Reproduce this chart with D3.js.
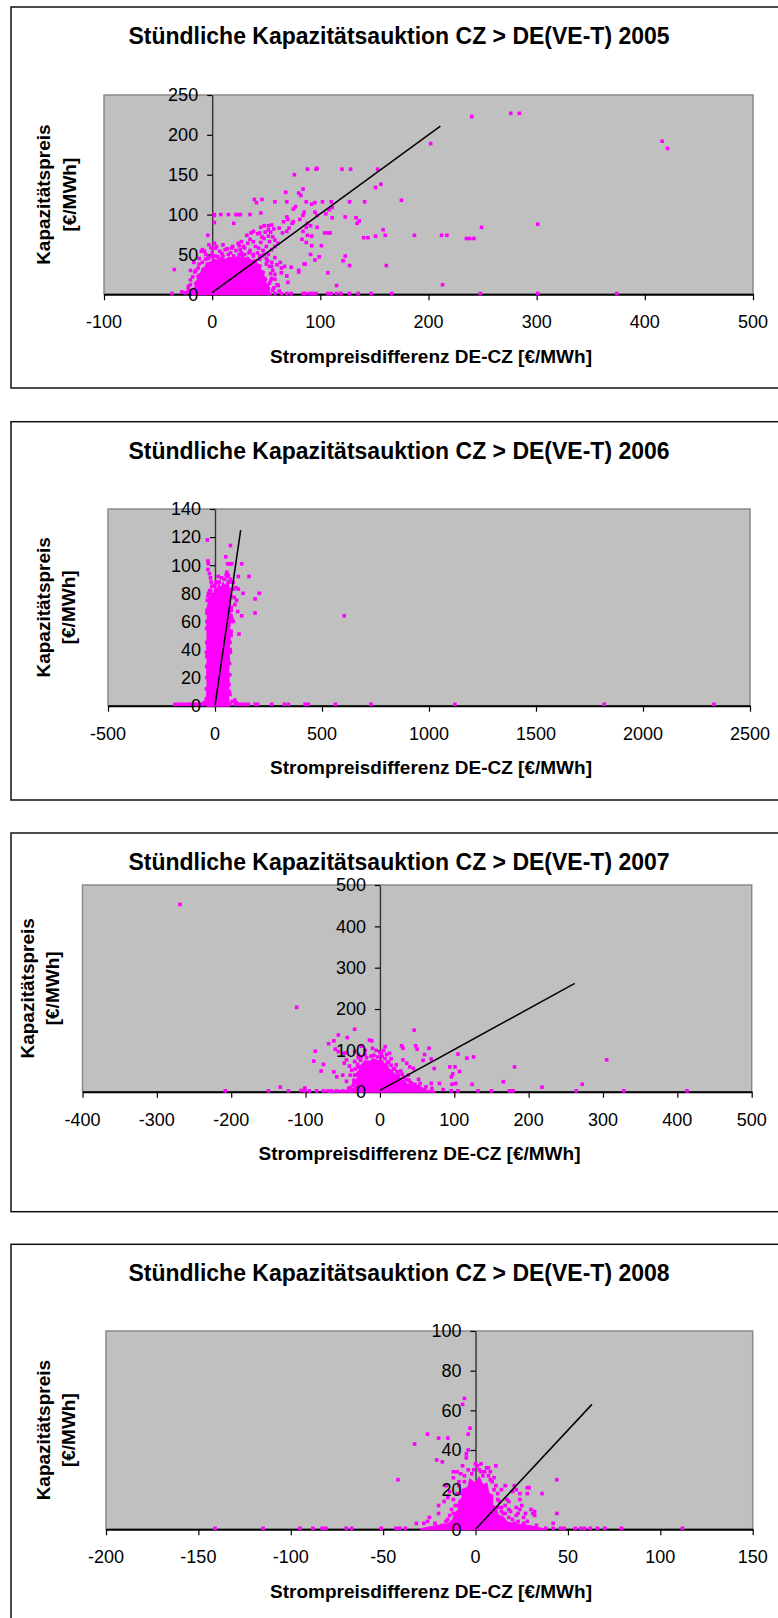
<!DOCTYPE html>
<html><head><meta charset="utf-8">
<script src="https://cdn.jsdelivr.net/npm/d3@7"></script>
<style>
html,body{margin:0;padding:0;background:#fff;}
svg{display:block;}
text{font-family:"Liberation Sans",Arial,sans-serif;fill:#000;}
</style></head><body>
<svg id="chart" width="778" height="1618"></svg>
<script>
// ---- texts ----
const titlePrefix = "Stündliche Kapazitätsauktion CZ > DE(VE-T) ";
const xAxisTitle = "Strompreisdifferenz DE-CZ [€/MWh]";
const yAxisTitle = ["Kapazitätspreis", "[€/MWh]"];
const years = [2005, 2006, 2007, 2008];

// ---- tick values ----
const xTicks2005 = [-100, 0, 100, 200, 300, 400, 500];
const yTicks2005 = [0, 50, 100, 150, 200, 250];
const xTicks2006 = [-500, 0, 500, 1000, 1500, 2000, 2500];
const yTicks2006 = [0, 20, 40, 60, 80, 100, 120, 140];
const xTicks2007 = [-400, -300, -200, -100, 0, 100, 200, 300, 400, 500];
const yTicks2007 = [0, 100, 200, 300, 400, 500];
const xTicks2008 = [-200, -150, -100, -50, 0, 50, 100, 150];
const yTicks2008 = [0, 20, 40, 60, 80, 100];

// ---- reference lines (price difference = capacity price) ----
const fit2005 = [[0, 2], [211, 211]];
const fit2006 = [[0, 0], [120, 125]];
const fit2007 = [[0, 3], [262, 262]];
const fit2008 = [[0, 0], [63, 63]];

// ---- densely packed hours (outline of the saturated cloud) ----
const core2005 = [[-18,0],[-18,6],[-15,9],[-16,14],[-13,18],[-14,23],[-10,27],[-9,32],[-6,34],[-5,39],[-1,40],[1,44],[5,42],[8,46],[12,43],[16,46],[20,44],[24,47],[28,44],[33,46],[36,42],[40,43],[41,38],[45,36],[44,31],[48,28],[47,23],[50,20],[49,14],[52,11],[50,6],[53,3],[54,0]];
const core2006 = [[-36,0],[-37,8],[-35,15],[-37,24],[-35,33],[-37,42],[-35,50],[-36,58],[-34,64],[-35,70],[-30,73],[-28,78],[-20,76],[-15,80],[-6,79],[2,84],[10,81],[18,86],[28,83],[38,87],[48,84],[58,88],[66,82],[70,84],[72,76],[69,70],[72,62],[67,55],[69,47],[64,40],[66,32],[62,25],[64,17],[60,10],[63,4],[66,0]];
const core2007 = [[-70,0],[-55,2],[-45,3],[-36,5],[-33,10],[-31,18],[-32,27],[-29,35],[-31,44],[-27,52],[-28,60],[-23,66],[-20,74],[-13,72],[-9,79],[-3,74],[2,76],[5,68],[10,63],[11,55],[16,50],[19,42],[25,38],[27,30],[33,26],[36,18],[42,15],[45,9],[52,6],[60,3],[75,0]];
const core2008 = [[-30,0],[-22,1.5],[-15,2.5],[-12,5],[-11,8],[-9,10],[-9,14],[-7,16],[-7,20],[-4,21],[-3,25],[0,23],[2,26],[4,22],[6,23],[7,18],[9,17],[9,12],[11,11],[12,7],[15,6],[17,3.5],[22,2.5],[30,1.5],[37,0]];

// ---- individual hours [price difference, capacity price] ----
const points2005 = [
 [240,223],[276,227],[284,227],[202,189],[416,192],[421,183],[212,74],[217,74],[235,70],[238,70],[242,70],[249,84],[301,88],[213,12],[248,1],[301,1],[374,1],
 [88,157],[96,157],[97,158],[120,157],[128,157],[153,157],[76,150],[84,132],[68,128],[80,127],[82,124],[151,134],[156,138],[175,118],
 [39,119],[46,119],[41,115],[58,116],[69,116],[87,116],[92,113],[95,115],[102,116],[110,116],[111,109],[127,116],[141,116],
 [75,107],[77,110],[69,97],[85,103],[95,103],[97,99],[105,101],[108,106],[123,97],[133,96],[134,89],[136,92],
 [151,73],[140,71],[144,71],[158,81],[160,74],[187,74],[161,36],[123,48],[121,42],[127,36],[107,27],[115,11],
 [95,43],[91,50],[92,61],[101,61],[99,47],[85,38],[86,38],[80,28],[80,30],[73,34],
 [84,79],[88,74],[92,73],[83,69],[87,65],[104,77],[107,77],[109,77],[111,96],[97,84],[91,86],[87,84],
 [81,94],[84,99],[88,89],[75,91],[74,89],[70,94],[62,83],[66,91],[71,83],[69,79],[65,77],
 [58,68],[58,60],[61,64],[52,81],[55,87],[52,73],[48,86],[52,86],[45,84],[44,77],[42,76],
 [36,77],[38,79],[35,69],[32,74],[27,66],[33,64],[24,64],[25,61],[29,60],[19,60],[18,58],[12,56],[7,54],[2,64],[3,58],
 [-4,74],[-9,56],[-10,54],[-7,54],[-35,31],[-37,1],[-28,3],[-25,2],
 [2,100],[8,100],[15,100],[22,100],[24,100],[26,100],[35,100],[45,102],[2,99],[2,90],[20,89],
 [55,56],[52,50],[58,46],[60,37],[63,40],[64,33],[67,35],[64,27],[69,23],[70,15],[54,17],[58,19],[61,11],[52,7],
 [52,1],[58,1],[64,1],[69,1],[73,1],[84,1],[86,1],[90,1],[93,1],[96,1],[107,1],[110,1],[115,1],[119,1],[127,1],[135,1],[147,1],[166,1],
 [30,50],[35,55],[40,60],[45,65],[48,70],[50,60],[42,52],[38,48],[46,48],[50,45],[55,40],[44,44],[47,55],[53,66],[56,72],[34,52],
 [28,48],[25,50],[20,48],[15,50],[10,48],[5,47],[0,48],[-3,46],[-6,44],[-12,38],[-15,30],[-18,22],[-20,12],[-22,6],[-19,2],
 [56,30],[58,25],[55,20],[60,12],[57,8],[62,4],[50,38],[53,35],[48,50],[43,58],[38,66],[30,58],[26,56],[49,78],[46,72],[54,78],[57,82],
 [-22,10],[-20,18],[-16,28],[-13,33],[-9,40],[-4,45],[0,52],[3,48],[9,51],[17,52],[22,55],[27,52],[38,50],[44,48],[51,42],[55,35],
 [54,26],[53,14],[56,5],[-24,2],[-21,4],[-1,58],[-3,62],[4,60],[10,62],[14,57],[-6,50],[-12,45],[-17,40],[-20,30]
];
const points2006 = [
 [-36,118],[-33,103],[-31,101],[-33,97],[-26,94],[-21,91],[-18,88],[-15,85],[72,114],[50,106],[59,101],[69,101],[78,101],[125,101],
 [55,95],[109,92],[159,92],[60,92],[72,90],[85,88],[131,80],[109,83],[97,84],[86,83],[187,76],[207,80],[187,66],[125,64],[112,51],
 [106,67],[93,72],[101,75],[90,77],[76,68],[86,60],[76,53],[79,62],[93,4],[604,64],
 [-187,1],[-171,1],[-156,1],[-140,1],[-125,1],[-93,1],[-70,1],[-54,1],[70,1],[93,1],[124,1],[156,1],[187,1],[199,1],[265,1],[324,1],
 [343,1],[421,1],[436,1],[563,1],[729,1],[1121,1],[1819,1],[2332,1],
 [-38,20],[-39,45],[-38,60],[-36,75],[-30,80],[-20,82],[0,86],[20,88],[45,90],[65,88],[75,78],[74,60],[70,45],[68,30],[66,15],[70,8],[80,3],
 [-40,5],[-45,2],[-60,1],[-80,1],[-110,1],[100,2],[110,1],[140,1],[-38,35],[-37,68],[75,50],[72,38],
 [-40,12],[-39,28],[-40,38],[-39,55],[-38,66],[-33,78],[-25,82],[-10,85],[5,88],[15,92],[30,91],[52,93],[62,93],[74,88],[76,70],[75,64],
 [73,52],[71,40],[69,22],[67,10],[-42,3],[-50,2]
];
const points2007 = [
 [-269,453],[-112,204],[-34,151],[-56,137],[-44,131],[-62,123],[-69,116],[-14,125],[-11,123],[-87,98],[-60,103],[-56,97],[-49,93],[-45,94],
 [-34,97],[-29,89],[-89,74],[-76,66],[-79,50],[-62,48],[-58,36],[-48,69],[-45,77],[-41,62],[-34,73],[-29,82],[-38,52],
 [7,109],[9,90],[13,93],[29,111],[31,105],[46,149],[48,111],[50,103],[60,90],[66,105],[58,76],[69,79],[31,77],[36,69],[40,60],[45,56],
 [52,30],[54,20],[69,20],[80,20],[73,56],
 [-208,2],[-150,2],[-134,11],[-123,2],[-106,3],[-101,9],[-101,2],[-95,2],[-85,2],[-76,2],[-70,2],[-65,2],[-58,2],[-50,2],[-40,2],
 [305,77],[181,60],[166,24],[272,18],[218,11],[126,84],[117,81],[105,91],[101,60],[107,49],[98,43],[96,36],[102,20],[97,18],[124,18],[94,60],
 [96,2],[105,2],[132,2],[150,2],[174,2],[179,2],[264,2],[328,2],[413,2],
 [-35,20],[-33,40],[-30,60],[-25,85],[-20,90],[-8,88],[0,95],[-5,100],[3,85],[10,70],[18,55],[25,40],[35,30],[42,20],[48,12],[55,8],
 [60,5],[-40,10],[-45,25],[-50,40],[-40,40],[-20,100],[-10,105],[-25,110],[5,100],[15,80],[22,65],[28,50],[38,40],[62,12],[70,8],[85,5],
 [-36,15],[-35,28],[-34,40],[-33,55],[-30,66],[-26,76],[-18,82],[-12,86],[-3,84],[2,92],[7,80],[12,72],[15,64],[20,55],[23,48],[30,42],
 [32,35],[39,28],[41,22],[47,18],[52,12],[-38,5],[-42,8]
];
const points2008 = [
 [-6,66],[-7,63],[-26,48],[-33,43],[-20,46],[-15,46],[-3,51],[-4,48],[-4,40],[-5,38],[-5,36],[-21,35],[-18,34],[-42,25],[6,31],[11,32],
 [0,33],[1,32],[-12,29],[-10,29],[-7,32],[16,22],[21,22],[20,19],[28,21],[28,18],[36,18],[44,25],[44,8],[42,3],[17,15],[18,10],[14,9],
 [12,11],[16,12],[22,11],[23,8],[25,12],[30,10],[32,7],[32,9],[-16,22],[-14,19],[-17,14],[-15,16],[-12,26],[-20,8],[-25,6],[-20,12],
 [-28,3],[-32,3],[-26,4],
 [-141,0.5],[-115,0.5],[-95,0.5],[-88,0.5],[-83,0.5],[-81,0.5],[-70,0.5],[-67,0.5],[-51,0.5],[-43,0.5],[-41,0.5],[-38,0.5],[31,0.5],
 [38,0.5],[42,0.5],[46,0.5],[48,0.5],[54,0.5],[57,0.5],[59,0.5],[62,0.5],[66,0.5],[70,0.5],[79,0.5],[112,0.5],
 [7,31],[29,21],[22,20],[24,18],[18,14],[24,15],[24,10],[31,8],[27,8],[26,6],[21,3],[23,4],
 [-10,12],[-8,18],[-6,24],[-2,28],[3,29],[8,25],[10,20],[12,15],[15,8],[20,5],[-12,8],[-15,5],[-9,22],[-1,30],[4,27],
 [-11,12],[-13,10],[-12,15],[-10,18],[-9,24],[-6,27],[-4,30],[2,30],[5,29],[7,27],[9,24],[11,22],[12,18],[13,14],[14,11],[16,8],
 [18,6],[22,7],[26,3],[-14,7],[-16,4],[-18,2],[-22,3],[-8,28],[3,33],[8,29],[10,26],[14,20],[19,9],[28,4],[33,2]
];

// ---- panel layout ----
const panels = [
  {year: years[0], pts: points2005, core: core2005, fit: fit2005, xt: xTicks2005, yt: yTicks2005,
   frame: {top: 7, bottom: 388}, plot: {l: 104, r: 753, t: 95, b: 294.3}, yTitleX: [43.7, 69.5], xTitleX: 431},
  {year: years[1], pts: points2006, core: core2006, fit: fit2006, xt: xTicks2006, yt: yTicks2006,
   frame: {top: 421.7, bottom: 800}, plot: {l: 108, r: 750, t: 509, b: 705.7}, yTitleX: [43.7, 68.5], xTitleX: 431},
  {year: years[2], pts: points2007, core: core2007, fit: fit2007, xt: xTicks2007, yt: yTicks2007,
   frame: {top: 833, bottom: 1211.7}, plot: {l: 82.5, r: 751.7, t: 885, b: 1091.7}, yTitleX: [27.3, 52.1], xTitleX: 419.5},
  {year: years[3], pts: points2008, core: core2008, fit: fit2008, xt: xTicks2008, yt: yTicks2008,
   frame: {top: 1244.3, bottom: 1650}, plot: {l: 106, r: 752.7, t: 1331, b: 1529.3}, yTitleX: [43.7, 68.5], xTitleX: 431}
];

const MAGENTA = "#FF00FF";
const MARK = 3.6;
const svg = d3.select("#chart");

panels.forEach(p => {
  const g = svg.append("g");
  const x = d3.scaleLinear().domain(d3.extent(p.xt)).range([p.plot.l, p.plot.r]);
  const y = d3.scaleLinear().domain(d3.extent(p.yt)).range([p.plot.b, p.plot.t]);

  // outer frame
  g.append("rect").attr("x", 11).attr("y", p.frame.top)
    .attr("width", 800).attr("height", p.frame.bottom - p.frame.top)
    .attr("fill", "none").attr("stroke", "#111").attr("stroke-width", 1.5);

  // title
  g.append("text").attr("x", 399).attr("y", p.frame.top + 29)
    .attr("text-anchor", "middle").attr("dy", "0.35em")
    .style("font-size", "23px").style("font-weight", "bold")
    .text(titlePrefix + p.year);

  // plot area
  g.append("rect").attr("x", p.plot.l).attr("y", p.plot.t)
    .attr("width", p.plot.r - p.plot.l).attr("height", p.plot.b - p.plot.t)
    .attr("fill", "#C0C0C0").attr("stroke", "#8a8a8a").attr("stroke-width", 1.5);

  // axes crossing at the origin
  const xAxis = d3.axisBottom(x).tickValues(p.xt).tickSize(6).tickSizeOuter(0).tickFormat(d => String(d));
  const yAxis = d3.axisLeft(y).tickValues(p.yt).tickSize(5).tickSizeOuter(0).tickFormat(d => String(d));

  const gx = g.append("g").attr("transform", `translate(0,${y(0)})`).call(xAxis);
  gx.select(".domain").attr("stroke", "#000").attr("stroke-width", 2);
  gx.selectAll(".tick line").attr("stroke", "#000").attr("stroke-width", 1.2);
  gx.selectAll(".tick text").remove();

  const gy = g.append("g").attr("transform", `translate(${x(0)},0)`).call(yAxis);
  gy.select(".domain").attr("stroke", "#333").attr("stroke-width", 1.4);
  gy.selectAll(".tick line").attr("stroke", "#000").attr("stroke-width", 1.2);
  gy.selectAll(".tick text").remove();

  // saturated cloud
  g.append("path").datum(p.core)
    .attr("d", d3.line().x(d => x(d[0])).y(d => y(d[1])).curve(d3.curveLinearClosed))
    .attr("fill", MAGENTA).attr("stroke", MAGENTA).attr("stroke-width", 2);

  // single hours
  g.append("g").selectAll("rect").data(p.pts).join("rect")
    .attr("x", d => x(d[0]) - MARK / 2).attr("y", d => y(d[1]) - MARK / 2)
    .attr("width", MARK).attr("height", MARK).attr("fill", MAGENTA);

  // reference line
  g.append("path").datum(p.fit)
    .attr("d", d3.line().x(d => x(d[0])).y(d => y(d[1])))
    .attr("fill", "none").attr("stroke", "#000").attr("stroke-width", 1.5);

  // tick labels
  g.append("g").selectAll("text").data(p.xt).join("text")
    .attr("x", d => x(d)).attr("y", y(0) + 27.5).attr("dy", "0.35em")
    .attr("text-anchor", "middle").style("font-size", "18px")
    .text(d => String(d));
  g.append("g").selectAll("text").data(p.yt).join("text")
    .attr("x", x(0) - 14).attr("y", d => y(d)).attr("dy", "0.35em")
    .attr("text-anchor", "end").style("font-size", "18px")
    .text(d => String(d));

  // axis titles
  g.append("text").attr("x", p.xTitleX).attr("y", y(0) + 62).attr("dy", "0.35em")
    .attr("text-anchor", "middle").style("font-size", "19px").style("font-weight", "bold")
    .text(xAxisTitle);
  const cy = (p.plot.t + p.plot.b) / 2;
  yAxisTitle.forEach((t, i) => {
    g.append("text").attr("transform", `translate(${p.yTitleX[i]},${cy}) rotate(-90)`)
      .attr("text-anchor", "middle").attr("dy", "0.35em")
      .style("font-size", "19px").style("font-weight", "bold")
      .text(t);
  });
});
</script>
</body></html>
